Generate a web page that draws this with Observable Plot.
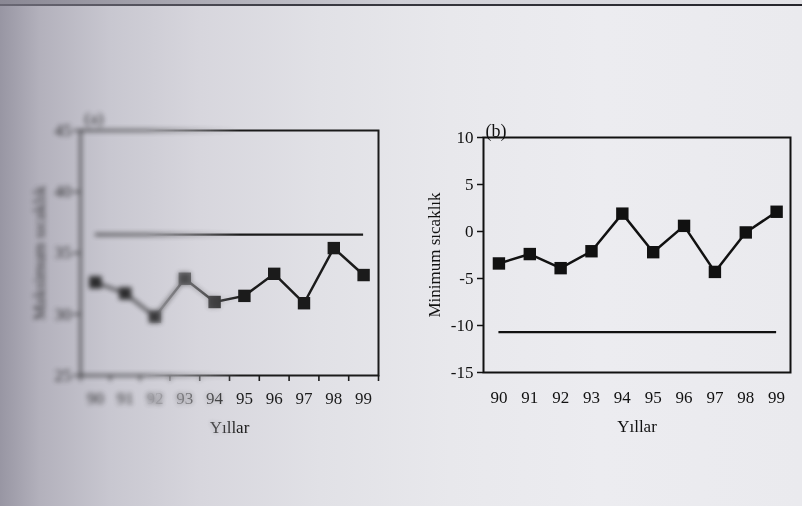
<!DOCTYPE html>
<html>
<head>
<meta charset="utf-8">
<script src="https://cdn.jsdelivr.net/npm/d3@7"></script>
<script src="https://cdn.jsdelivr.net/npm/@observablehq/plot@0.6"></script>
<style>
  html, body { margin: 0; padding: 0; }
  body { width: 802px; height: 506px; overflow: hidden; }
  #page {
    position: relative; width: 802px; height: 506px; overflow: hidden;
    background: linear-gradient(to right, #9896a3 0px, #b3b1bc 40px, #c8c7d0 110px, #d7d6dd 200px, #e1e1e6 320px, #e8e8ec 450px, #ececf0 600px, #eaeaee 802px);
    font-family: "Liberation Serif", serif;
  }
  #topline { position: absolute; left: 0; top: 4px; width: 802px; height: 2px;
    background: linear-gradient(to right, #6a6874, #3a3a42 300px, #25252b 802px); }
  #topband { position: absolute; left: 0; top: 0; width: 802px; height: 4px;
    background: linear-gradient(to right, #8a8894, #cfcfd6 400px, #e2e2e6 802px); }
  .chart { position: absolute; width: 402px; height: 340px; }
  .chart svg { display: block; }
  #leftBase { left: 0; top: 100px; filter: blur(0.6px); opacity: 0.95;
    -webkit-mask-image: linear-gradient(to right, transparent 0px, transparent 145px, black 240px);
    mask-image: linear-gradient(to right, transparent 0px, transparent 145px, black 240px); }
  #leftBlur { left: 0; top: 100px; filter: blur(2.6px); opacity: 0.85;
    -webkit-mask-image: linear-gradient(to right, black 0px, black 145px, transparent 240px);
    mask-image: linear-gradient(to right, black 0px, black 145px, transparent 240px); }
  #right { left: 400px; top: 100px; filter: blur(0.35px); }
</style>
</head>
<body>
<div id="page">
  <div id="topband"></div>
  <div id="topline"></div>
  <div id="leftBase" class="chart"></div>
  <div id="leftBlur" class="chart"></div>
  <div id="right" class="chart"></div>
</div>
<script>
// ---- data ----
const years = [90, 91, 92, 93, 94, 95, 96, 97, 98, 99];
const maxTemp = [32.6, 31.7, 29.8, 32.9, 31.0, 31.5, 33.3, 30.9, 35.4, 33.2];
const maxThreshold = 36.5;
const maxTicks = [25, 30, 35, 40, 45];
const minTemp = [-3.4, -2.4, -3.9, -2.1, 1.9, -2.2, 0.6, -4.3, -0.1, 2.1];
const minThreshold = -10.7;
const minTicks = [-15, -10, -5, 0, 5, 10];

const dataA = years.map((y, i) => ({year: y, v: maxTemp[i]}));
const dataB = years.map((y, i) => ({year: y, v: minTemp[i]}));
const bounds = years.map(y => y - 0.5).concat([years[years.length - 1] + 0.5]);

const ink = "#111";
const baseStyle = {fontFamily: "Liberation Serif, serif", fontSize: "17px", background: "transparent", color: ink, overflow: "visible"};

function chartA() {
  return Plot.plot({
    width: 400, height: 340,
    marginLeft: 80, marginRight: 22, marginTop: 30, marginBottom: 65,
    style: baseStyle,
    x: {domain: [89.5, 99.5]},
    y: {domain: [25, 45]},
    marks: [
      Plot.frame({stroke: ink, strokeWidth: 2}),
      Plot.axisY({ticks: maxTicks, tickSize: 7, tickPadding: 2, tickFormat: d => String(d), strokeWidth: 1.5,
        label: "Maksimum sıcaklık", labelAnchor: "center", labelArrow: false, labelOffset: 48}),
      Plot.axisX({ticks: bounds, tickSize: 6, strokeWidth: 1.6, tickFormat: () => "", label: null}),
      Plot.axisX({ticks: years, tickSize: 0, tickPadding: 16, tickFormat: d => String(d),
        label: "Yıllar", labelAnchor: "center", labelArrow: false, labelOffset: 57}),
      Plot.ruleY([maxThreshold], {x1: 90, x2: 99, stroke: ink, strokeWidth: 2.4}),
      Plot.line(dataA, {x: "year", y: "v", stroke: ink, strokeWidth: 2.5}),
      Plot.dot(dataA, {x: "year", y: "v", symbol: "square", r: 7, fill: ink, stroke: "none"}),
      Plot.text(["(a)"], {frameAnchor: "top-left", dx: 4, dy: -7, textAnchor: "start", lineAnchor: "bottom", fontSize: 17})
    ]
  });
}

function chartB() {
  return Plot.plot({
    width: 402, height: 340,
    marginLeft: 83, marginRight: 12, marginTop: 37, marginBottom: 68,
    style: baseStyle,
    x: {domain: [89.5, 99.45]},
    y: {domain: [-15, 10]},
    marks: [
      Plot.frame({stroke: ink, strokeWidth: 2}),
      Plot.axisY({ticks: minTicks, tickSize: 6, tickPadding: 4, strokeWidth: 1.5, tickFormat: d => String(d),
        label: "Minimum sıcaklık", labelAnchor: "center", labelArrow: false, labelOffset: 56}),
      Plot.axisX({ticks: years, tickSize: 0, tickPadding: 18, tickFormat: d => String(d),
        label: "Yıllar", labelAnchor: "center", labelArrow: false, labelOffset: 59}),
      Plot.ruleY([minThreshold], {x1: 90, x2: 99, stroke: ink, strokeWidth: 2.2}),
      Plot.line(dataB, {x: "year", y: "v", stroke: ink, strokeWidth: 2.5}),
      Plot.dot(dataB, {x: "year", y: "v", symbol: "square", r: 7, fill: ink, stroke: "none"}),
      Plot.text(["(b)"], {frameAnchor: "top-left", dx: 2, dy: -1, textAnchor: "start", lineAnchor: "bottom", fontSize: 18})
    ]
  });
}

document.getElementById("leftBase").appendChild(chartA());
document.getElementById("leftBlur").appendChild(chartA());
document.getElementById("right").appendChild(chartB());
</script>
</body>
</html>
